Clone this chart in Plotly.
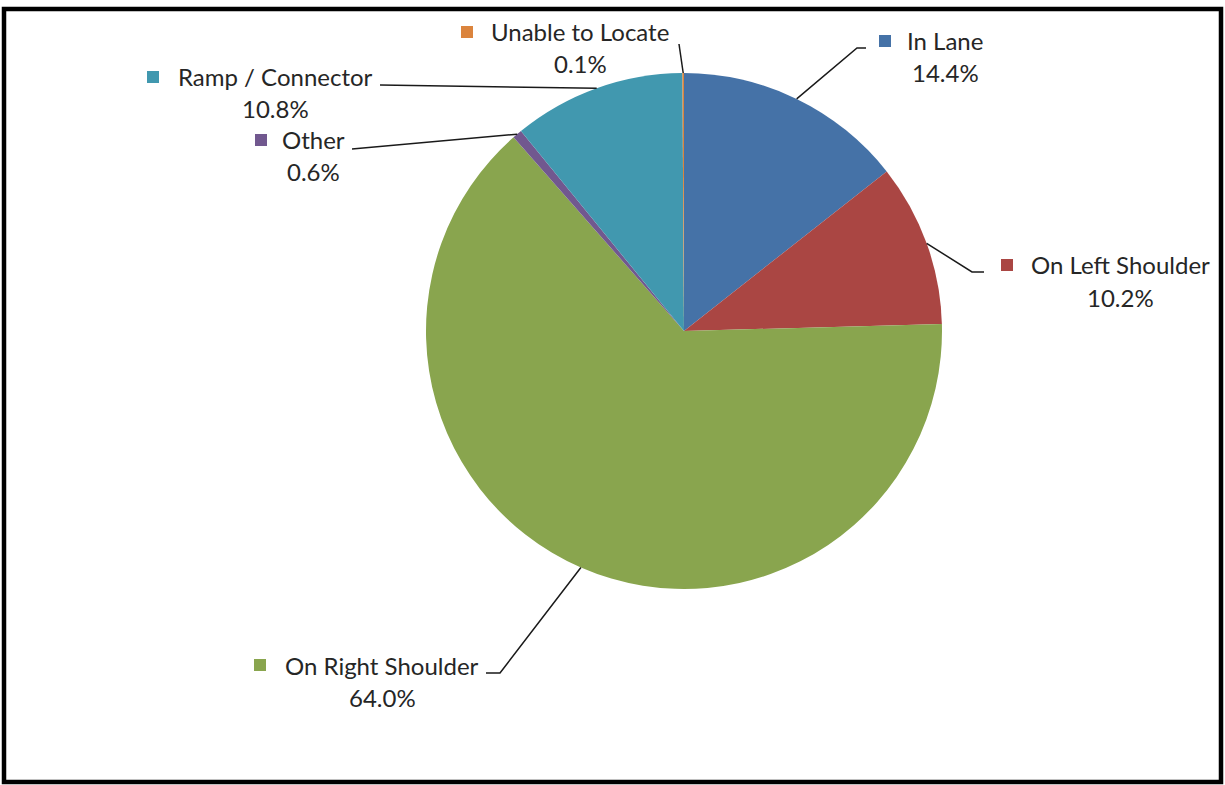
import math
import plotly.graph_objects as go

# ---- data ----
categories = ["In Lane", "On Left Shoulder", "On Right Shoulder", "Other",
              "Ramp / Connector", "Unable to Locate"]
values = [14.4, 10.2, 64.0, 0.6, 10.8, 0.1]
value_labels = ["14.4%", "10.2%", "64.0%", "0.6%", "10.8%", "0.1%"]
colors = ["#4572A7", "#AA4643", "#89A54E", "#71588F", "#4198AF", "#DB843D"]

W, H = 1225, 785
CX, CY, R = 684, 331, 258  # pie centre / radius in pixels

# label layout (pixels): name centre x, name line y, square centre x, leader end points
label_layout = {
    "In Lane":           dict(nx=945, ny=41, sx=885, pts=[(857, 48), (866, 48)]),
    "On Left Shoulder":  dict(nx=1120, ny=265, sx=1007, pts=[(972, 272), (984, 272)]),
    "On Right Shoulder": dict(nx=382, ny=665, sx=260, pts=[(500, 673), (486, 673)]),
    "Other":             dict(nx=313, ny=140, sx=261, pts=[(352, 149)]),
    "Ramp / Connector":  dict(nx=275, ny=77, sx=153, pts=[(380, 85)]),
    "Unable to Locate":  dict(nx=580, ny=32, sx=467, pts=[(679, 44)]),
}
LINE_GAP = 32
FONT = dict(family="Lato", size=24, color="#262626")

def px(x):
    return x / W

def py(y):
    return 1 - y / H

fig = go.Figure(go.Pie(
    labels=categories, values=values, sort=False, direction="clockwise",
    rotation=0, marker=dict(colors=colors, line=dict(width=0)),
    textinfo="none", hoverinfo="label+percent", showlegend=False,
    domain=dict(x=[px(CX - R), px(CX + R)], y=[py(CY + R), py(CY - R)]),
))

shapes = []
annotations = []
total = sum(values)
cum = 0.0
for cat, v, vl, col in zip(categories, values, value_labels, colors):
    mid = (cum + v / 2) / total
    cum += v
    ang = math.radians(90 - mid * 360)
    sx0 = CX + R * math.cos(ang)
    sy0 = CY - R * math.sin(ang)
    lay = label_layout[cat]
    path_pts = [(sx0, sy0)] + lay["pts"]
    path = "M " + " L ".join(f"{px(x):.5f},{py(y):.5f}" for x, y in path_pts)
    shapes.append(dict(type="path", xref="paper", yref="paper", path=path,
                       line=dict(color="#1a1a1a", width=1.5)))
    annotations.append(dict(x=px(lay["nx"]), y=py(lay["ny"]), xref="paper", yref="paper",
                            text=cat, showarrow=False, xanchor="center", yanchor="middle",
                            font=FONT))
    annotations.append(dict(x=px(lay["nx"]), y=py(lay["ny"] + LINE_GAP), xref="paper", yref="paper",
                            text=vl, showarrow=False, xanchor="center", yanchor="middle",
                            font=FONT))
    half = 6
    shapes.append(dict(type="rect", xref="paper", yref="paper",
                       x0=px(lay["sx"] - half), x1=px(lay["sx"] + half),
                       y0=py(lay["ny"] + half), y1=py(lay["ny"] - half),
                       fillcolor=col, line=dict(width=0)))

# outer frame
shapes.append(dict(type="rect", xref="paper", yref="paper",
                   x0=px(4), x1=px(1221), y0=py(782), y1=py(9),
                   line=dict(color="black", width=4.5), fillcolor="rgba(0,0,0,0)"))

fig.update_layout(width=W, height=H, margin=dict(l=0, r=0, t=0, b=0),
                  paper_bgcolor="white", plot_bgcolor="white",
                  shapes=shapes, annotations=annotations)

fig.write_html("out.html", config={"displayModeBar": False},
               post_script="document.body.style.margin='0';document.body.style.padding='0';")
